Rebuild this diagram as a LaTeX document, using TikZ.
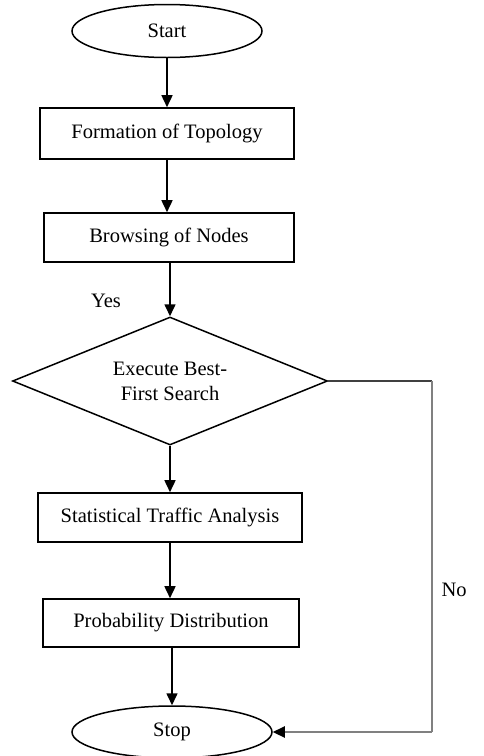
\documentclass[tikz,border=0pt]{standalone}
\usepackage{fontspec}
\setmainfont{Liberation Serif}
\usetikzlibrary{shapes.geometric,arrows.meta}
\begin{document}
\begin{tikzpicture}[x=1pt,y=-1pt,
  every node/.style={font=\fontsize{20.5}{25}\selectfont},
  term/.style={ellipse,draw,line width=1.5pt,inner sep=0pt},
  procbox/.style={rectangle,draw,line width=1.6pt,inner sep=0pt},
  decis/.style={diamond,draw,line width=1.5pt,inner sep=0pt,align=center,shape aspect=2.46},
  flow/.style={line width=1.6pt,-{Triangle[length=12pt,width=11pt]}},
  noflow/.style={line width=2.2pt,draw=black!50}]
\useasboundingbox (0,0) rectangle (484,756);
\node[term,minimum width=190pt,minimum height=53pt] (start) at (167,31) {Start};
\node[procbox,minimum width=254pt,minimum height=51pt] (form) at (167,133.5) {Formation of Topology};
\node[procbox,minimum width=250pt,minimum height=49pt] (brow) at (169,237.5) {Browsing of Nodes};
\node[decis,minimum width=315pt,minimum height=128pt] (dec) at (170,381) {Execute Best-\\First Search};
\node[procbox,minimum width=264pt,minimum height=49pt] (stat) at (170,517.5) {Statistical Traffic Analysis};
\node[procbox,minimum width=256pt,minimum height=48pt] (prob) at (171,623) {Probability Distribution};
\node[term,minimum width=200pt,minimum height=52pt] (stop) at (172,732) {Stop};
\node[anchor=center] (yes) at (106,301) {Yes};
\node[anchor=west] (no) at (438,590) {No};
\coordinate (c1) at (432,382);
\coordinate (c2) at (432,732);
\draw[flow] (start.south) -- (form.north -| start.south);
\draw[flow] (form.south) -- (brow.north -| form.south);
\draw[flow] (brow.south -| dec.north) -- (dec.north);
\draw[flow] (dec.south) -- (stat.north -| dec.south);
\draw[flow] (stat.south) -- (prob.north -| stat.south);
\draw[flow] (prob.south -| stop.north) -- (stop.north);
\draw[line width=1.5pt,draw=black!75] (dec.east) -- (c1 |- dec.east);
\draw[noflow] (c1 |- dec.east) -- (c2);
\draw[noflow,-{Triangle[length=12pt,width=11pt,color=black]}] (c2) -- (stop.east);
\end{tikzpicture}
\end{document}
